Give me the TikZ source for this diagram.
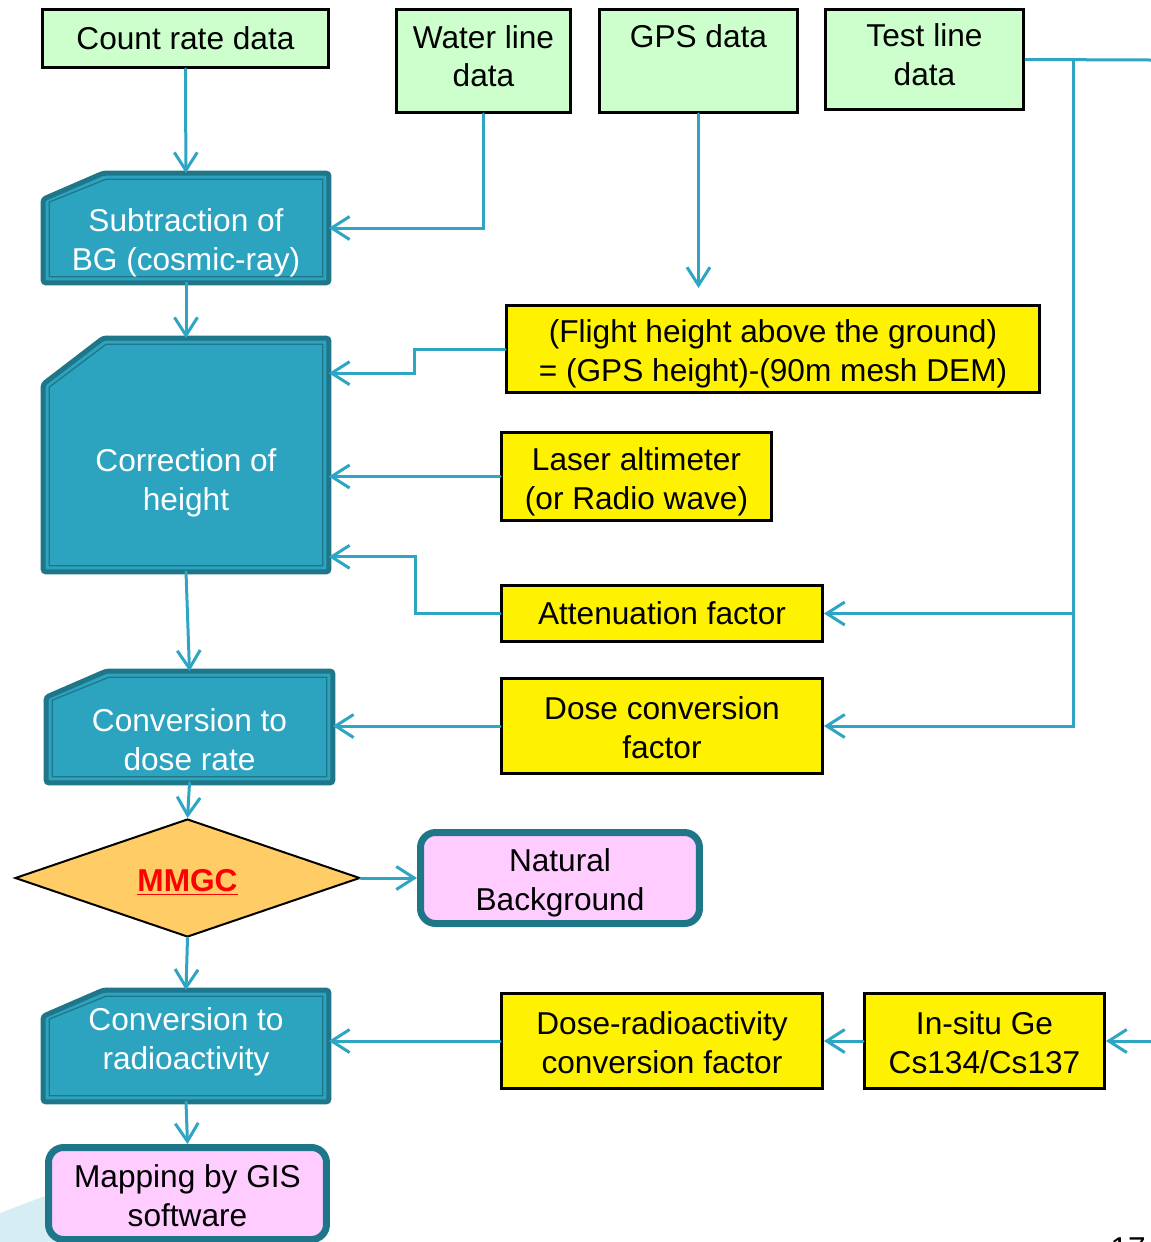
\documentclass[tikz,border=0pt]{standalone}
\usepackage{fontspec}
\setmainfont{Liberation Sans}
\usepackage{xcolor}
\usetikzlibrary{arrows.meta, positioning, calc, shapes.geometric, backgrounds}
\definecolor{datagreen}{HTML}{CCFFCC}
\definecolor{cardblue}{HTML}{2CA3BF}
\definecolor{carddark}{HTML}{1F7689}
\definecolor{flowblue}{HTML}{2EA5C3}
\definecolor{bgpink}{HTML}{FFCCFF}
\definecolor{mmgcorange}{HTML}{FFCC66}
\definecolor{mmgcred}{HTML}{FF0000}
\definecolor{wedgeblue}{HTML}{D6EDF3}
% card outline: node, cut in x, cut in y (px units of the picture)
\newcommand{\cardshape}[3]{%
  \filldraw[cardouter] ($(#1.north west)+(#2,0)$) -- (#1.north east) -- (#1.south east)
    -- (#1.south west) -- ($(#1.north west)+(0,#3)$) -- cycle;
  \draw[cardinner] ($(#1.north west)+(#2+3,6)$) -- ($(#1.north east)+(-6,6)$)
    -- ($(#1.south east)+(-6,-6)$) -- ($(#1.south west)+(6,-6)$)
    -- ($(#1.north west)+(6,#3+3)$) -- cycle;
}

\begin{document}
\begin{tikzpicture}[x=0.02cm, y=-0.02cm, font=\fontsize{18}{22}\selectfont,
  databox/.style={rectangle, draw=black, line width=0.06cm, fill=datagreen, align=center, inner sep=0pt},
  factorbox/.style={rectangle, draw=black, line width=0.06cm, fill=yellow, align=center, inner sep=0pt},
  card/.style={rectangle, inner sep=0pt},
  cardtext/.style={text=white, align=center},
  cardouter/.style={draw=carddark, fill=cardblue, line width=0.1cm, rounded corners=1.5pt},
  cardinner/.style={draw=carddark, line width=0.025cm},
  pinkbox/.style={rectangle, rounded corners=0.3cm, draw=carddark, line width=0.14cm, fill=bgpink, align=center, inner sep=0pt},
  pinkinner/.style={draw=carddark, line width=0.025cm, rounded corners=0.2cm},
  decision/.style={diamond, aspect=2.92, draw=black, line width=0.04cm, fill=mmgcorange, inner sep=0pt},
  twolineup/.style={text height=33.1pt, text depth=3.8pt},
  twolinedown/.style={text height=40.9pt, text depth=3.8pt},
  flow/.style={draw=flowblue, line width=0.06cm, line cap=round, -{Straight Barb[length=0.36cm, width=0.46cm]}},
  plainflow/.style={draw=flowblue, line width=0.06cm}]
  \useasboundingbox (0,0) rectangle (1151,1242);
  % ================================================================
  % background wedge and page number
  % ================================================================
  \fill[wedgeblue] (0,1213) -- (140,1160) -- (140,1242) -- (0,1242) -- cycle;
  \node[anchor=base] (pagenum) at (1128,1259) {17};
  % ================================================================
  % input data
  % ================================================================
  \node[databox, minimum width=5.72cm, minimum height=1.16cm] (count) at (185.5,38.5) {Count rate data};
  \node[databox, twolineup, minimum width=3.48cm, minimum height=2.06cm] (water) at (483.5,61) {Water line\\data};
  \node[databox, minimum width=3.96cm, minimum height=2.06cm, label={[yshift=0.5cm]center:GPS data}] (gps) at (698.5,61) {};
  \node[databox, twolineup, minimum width=3.96cm, minimum height=2.00cm] (test) at (924.5,59.5) {Test line\\data};
  % ================================================================
  % processing steps (left column)
  % ================================================================
  \node[card, minimum width=5.70cm, minimum height=2.18cm, label={[cardtext, yshift=-0.29cm]center:{Subtraction of\\BG (cosmic-ray)}}] (sub) at (186,228) {};
  \node[card, minimum width=5.70cm, minimum height=4.66cm, label={[cardtext, yshift=-0.55cm]center:{Correction of\\height}}] (corr) at (186,455) {};
  \node[card, minimum width=5.72cm, minimum height=2.22cm, label={[cardtext, yshift=-0.26cm]center:{Conversion to\\dose rate}}] (dose) at (189.5,727) {};
  \node[decision, text height=18.6pt, text depth=3.5pt, minimum width=6.9cm, minimum height=2.36cm] (mmgc) at (187.5,878) {\textcolor{mmgcred}{\bfseries\underline{MMGC}}};
  \node[card, minimum width=5.70cm, minimum height=2.22cm, label={[cardtext, yshift=0.09cm]center:{Conversion to\\radioactivity}}] (radio) at (186,1046) {};
  \node[pinkbox, twolinedown, minimum width=5.56cm, minimum height=1.84cm] (map) at (187.5,1193.5) {Mapping by GIS\\software};
  \node[pinkbox, twolinedown, minimum width=5.58cm, minimum height=1.82cm] (natbg) at (560,878) {Natural\\Background};
  \begin{scope}[on background layer]
    \cardshape{sub}{60}{26}
    \cardshape{corr}{60}{46}
    \cardshape{dose}{60}{26}
    \cardshape{radio}{60}{26}
  \end{scope}
  \foreach \n in {natbg, map} {
    \draw[pinkinner] ($(\n.north west)+(6,6)$) rectangle ($(\n.south east)+(-6,-6)$);
  }
  % ================================================================
  % factors (right column)
  % ================================================================
  \node[factorbox, twolinedown, minimum width=10.66cm, minimum height=1.74cm] (flight) at (773,349) {(Flight height above the ground)\\= (GPS height)-(90m mesh DEM)};
  \node[factorbox, twolinedown, minimum width=5.40cm, minimum height=1.76cm] (laser) at (636.5,476.5) {Laser altimeter\\(or Radio wave)};
  \node[factorbox, minimum width=6.42cm, minimum height=1.12cm] (atten) at (662,613.5) {Attenuation factor};
  \node[factorbox, twolinedown, minimum width=6.42cm, minimum height=1.90cm] (dcf) at (662,726) {Dose conversion\\factor};
  \node[factorbox, twolinedown, minimum width=6.42cm, minimum height=1.90cm] (drc) at (662,1041) {Dose-radioactivity\\conversion factor};
  \node[factorbox, twolinedown, minimum width=4.80cm, minimum height=1.90cm] (insitu) at (984.5,1041) {In-situ Ge\\Cs134/Cs137};
  % ================================================================
  % connectors
  % ================================================================
  \coordinate (edgetop) at (1151,60);
  \coordinate (trunk) at (1073,60);
  \coordinate (edgebot) at (1151,1041);
  \draw[flow] (count) -- (sub);
  \draw[flow] (water.south) |- (sub.east);
  \draw[flow, shorten >=0.32cm] (gps.south) -- (gps.south |- flight.north);
  \draw[flow] (sub) -- (corr);
  \draw[flow] (flight.west) -- ++(-91,0) |- ([yshift=-0.7cm]corr.north east);
  \draw[flow] (laser.west) -- (laser.west -| corr.east);
  \draw[flow] (atten.west) -- ++(-85,0) |- ([yshift=0.3cm]corr.south east);
  \draw[flow] (corr.south) -- (dose.north);
  \draw[flow] (dcf.west) -- (dcf.west -| dose.east);
  \draw[plainflow] (test.east) -- (edgetop);
  \draw[flow] (trunk) |- (atten.east);
  \draw[flow] (trunk) |- (dcf.east);
  \draw[flow] (dose.south) -- (mmgc.north);
  \draw[flow] (mmgc.east) -- (natbg.west);
  \draw[flow] (mmgc.south) -- (radio.north);
  \draw[flow] (drc.west) -- (drc.west -| radio.east);
  \draw[flow] (insitu.west) -- (drc.east);
  \draw[flow] (edgebot) -- (insitu.east);
  \draw[flow] (radio.south) -- (map.north);
\end{tikzpicture}
\end{document}
